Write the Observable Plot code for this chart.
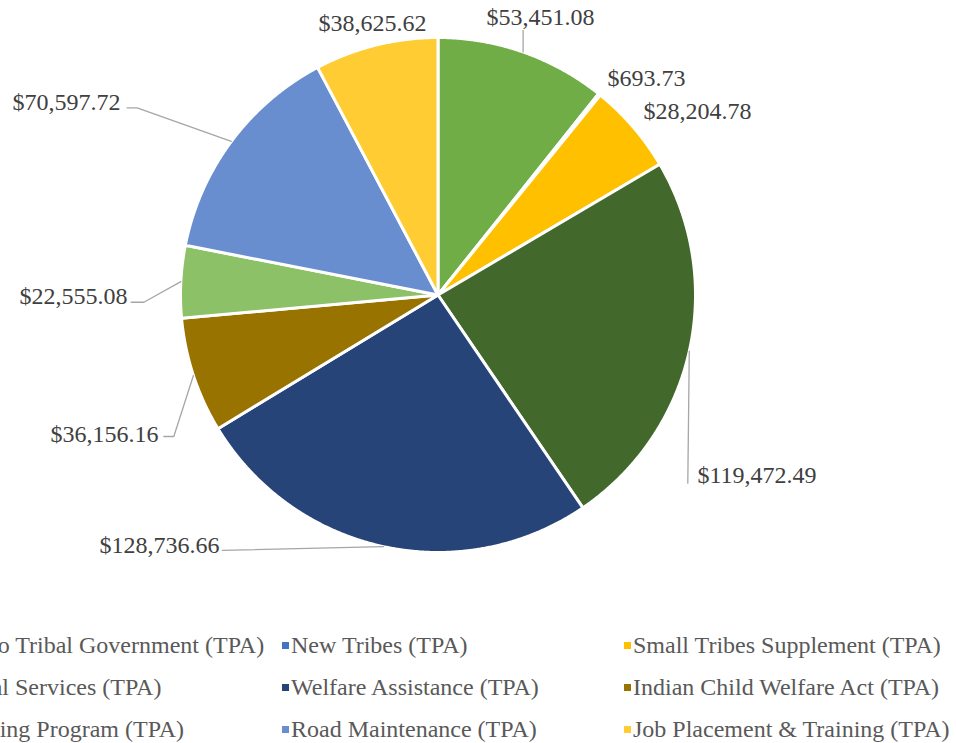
<!DOCTYPE html>
<html>
<head>
<meta charset="utf-8">
<script src="https://cdn.jsdelivr.net/npm/d3@7"></script>
<script src="https://cdn.jsdelivr.net/npm/@observablehq/plot@0.6"></script>
<style>
  html, body { margin: 0; padding: 0; background: #fff; overflow: hidden; }
  #wrap { position: relative; width: 956px; height: 743px; overflow: hidden; }
  #legend {
    position: absolute; left: -60px; top: 624px;
    display: grid; grid-template-columns: 342px 342px 342px; grid-auto-rows: 42px;
    font-family: "Liberation Serif", "Times New Roman", serif; font-size: 24px; color: #595959;
    white-space: nowrap;
  }
  .item { display: flex; align-items: center; }
  .sw { width: 7px; height: 7px; margin-right: 2px; flex: none; }
</style>
</head>
<body>
<div id="wrap"><div id="chart"></div><div id="legend"></div></div>
<script>
// ---- data ----
const categories = [
  "Aid to Tribal Government (TPA)",
  "New Tribes (TPA)",
  "Small Tribes Supplement (TPA)",
  "Social Services (TPA)",
  "Welfare Assistance (TPA)",
  "Indian Child Welfare Act (TPA)",
  "Housing Program (TPA)",
  "Road Maintenance (TPA)",
  "Job Placement & Training (TPA)"
];
const amounts = [53451.08, 693.73, 28204.78, 119472.49, 128736.66, 36156.16, 22555.08, 70597.72, 38625.62];
const colors = ["#70AD47", "#4472C4", "#FFC000", "#43682B", "#264478", "#997300", "#8CC168", "#698ED0", "#FFCD33"];

// ---- layout (pixels) ----
const W = 956, H = 620, CX = 437.5, CY = 294.5, R = 257.5;
// label offset from the slice's mid-arc point, text anchor, and leader line bend points (offsets)
const labelLayout = [
  {anchor: "middle", at: [17.4, -34.5], leader: [[0, -21.5]]},
  {anchor: "start",  at: [8, -16],      leader: []},
  {anchor: "start",  at: [10.4, -15.5], leader: []},
  {anchor: "start",  at: [8.2, 124.3],  leader: [[-1.5, 132]]},
  {anchor: "end",    at: [-163.9, -1.2], leader: [[-161, 3.8]]},
  {anchor: "end",    at: [-34.9, 59],    leader: [[-19.6, 61], [-29.6, 61]]},
  {anchor: "end",    at: [-53.4, 15],    leader: [[-37, 20.6], [-49.7, 20.6]]},
  {anchor: "end",    at: [-110.9, -39.2], leader: [[-94.2, -33.6], [-104.2, -33.6]]},
  {anchor: "middle", at: [-3.5, -21.6],  leader: []}
];

const fmt = d3.format("$,.2f");
const rows = categories.map((c, i) => ({category: c, amount: amounts[i], i}));
const arcs = d3.pie().sort(null).value(d => d.amount)(rows);

// slice polygons (unit circle, y up, angle clockwise from 12 o'clock)
const slicePts = [];
for (const a of arcs) {
  const cat = a.data.category;
  slicePts.push({category: cat, x: 0, y: 0});
  const n = Math.max(2, Math.ceil((a.endAngle - a.startAngle) / (Math.PI / 720)));
  for (let k = 0; k <= n; k++) {
    const t = a.startAngle + (a.endAngle - a.startAngle) * k / n;
    slicePts.push({category: cat, x: Math.sin(t), y: Math.cos(t)});
  }
  slicePts.push({category: cat, x: 0, y: 0});
}

const labelData = [];
const leaderPts = [];
arcs.forEach((a, i) => {
  const m = (a.startAngle + a.endAngle) / 2;
  const ax = Math.sin(m), ay = Math.cos(m);
  const L = labelLayout[i];
  labelData.push({
    text: fmt(a.data.amount), anchor: L.anchor,
    x: ax + L.at[0] / R, y: ay - L.at[1] / R
  });
  if (L.leader.length) {
    leaderPts.push({id: i, x: ax, y: ay});
    for (const p of L.leader) leaderPts.push({id: i, x: ax + p[0] / R, y: ay - p[1] / R});
  }
});

const textOpts = {x: "x", y: "y", text: "text", fontFamily: "Liberation Serif, Times New Roman, serif", fontSize: 24, fill: "#404040", lineAnchor: "middle"};

const chart = Plot.plot({
  width: W, height: H,
  marginTop: 0, marginRight: 0, marginBottom: 0, marginLeft: 0,
  x: {domain: [-CX / R, (W - CX) / R], axis: null},
  y: {domain: [-(H - CY) / R, CY / R], axis: null},
  color: {domain: categories, range: colors},
  style: {background: "#fff", overflow: "visible"},
  marks: [
    Plot.line(slicePts, {x: "x", y: "y", z: "category", fill: "category", stroke: "#fff", strokeWidth: 3, strokeLinejoin: "round", curve: "linear"}),
    Plot.line(leaderPts, {x: "x", y: "y", z: "id", stroke: "#A6A6A6", strokeWidth: 1.3, curve: "linear"}),
    Plot.text(labelData.filter(d => d.anchor === "start"), {...textOpts, textAnchor: "start"}),
    Plot.text(labelData.filter(d => d.anchor === "middle"), {...textOpts, textAnchor: "middle"}),
    Plot.text(labelData.filter(d => d.anchor === "end"), {...textOpts, textAnchor: "end"})
  ]
});
document.getElementById("chart").appendChild(chart);

const legend = document.getElementById("legend");
categories.forEach((c, i) => {
  const item = document.createElement("div");
  item.className = "item";
  const sw = document.createElement("span");
  sw.className = "sw";
  sw.style.background = colors[i];
  const tx = document.createElement("span");
  tx.textContent = c;
  item.appendChild(sw); item.appendChild(tx);
  legend.appendChild(item);
});
</script>
</body>
</html>
